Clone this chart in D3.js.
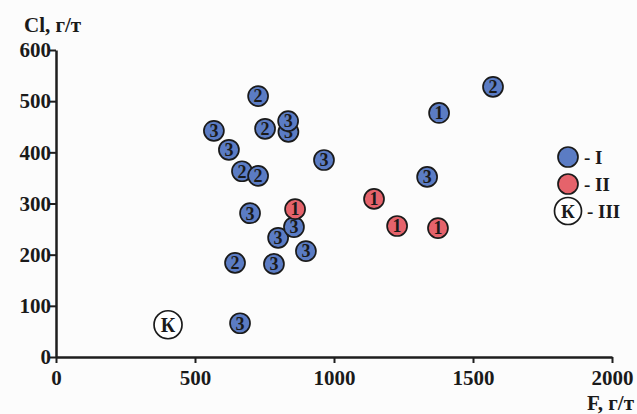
<!DOCTYPE html>
<html>
<head>
<meta charset="utf-8">
<script src="https://cdn.jsdelivr.net/npm/d3@7"></script>
<style>
	body { margin: 0; background: #fcfcfc; }
	text { font-family: "Liberation Serif", "Times New Roman", serif; font-weight: bold; fill: #1a1a1a; }
</style>
</head>
<body>
<div id="chart"></div>
<script>
// F, г/т
var fValues = [727, 1572, 1378, 568, 752, 836, 835, 622, 964, 669, 727, 1335,
	1144, 698, 799, 856, 860, 899, 644, 784, 662, 403, 1227, 1374];
// Cl, г/т
var clValues = [510, 528, 477, 442, 446, 440, 461, 405, 385, 363, 354, 352,
	309, 281, 233, 254, 289, 207, 184, 182, 66, 63, 256, 252];
// group: I, II, III
var groups = ['I', 'I', 'I', 'I', 'I', 'I', 'I', 'I', 'I', 'I', 'I', 'I',
	'II', 'I', 'I', 'I', 'II', 'I', 'I', 'I', 'I', 'III', 'II', 'II'];
var labels = ['2', '2', '1', '3', '2', '3', '3', '3', '3', '2', '2', '3',
	'1', '3', '3', '3', '1', '3', '2', '3', '3', 'К', '1', '1'];

var xTicks = [0, 500, 1000, 1500, 2000];
var yTicks = [0, 100, 200, 300, 400, 500, 600];

var legendGroups = ['I', 'II', 'III'];
var legendLabels = ['', '', 'К'];

var colors = {
	I: '#5b7cc4',
	II: '#e5636b',
	III: '#ffffff',
	axis: '#1e1e1e'
};

var width = 637;
var height = 414;

var svg = d3.select('#chart')
	.append('svg')
	.attr('width', width)
	.attr('height', height);

var x = d3.scaleLinear()
	.domain([0, 2000])
	.range([56, 612]);

var y = d3.scaleLinear()
	.domain([0, 600])
	.range([357, 50]);

// axes
var xAxis = svg.append('g')
	.attr('transform', 'translate(0,' + y(0) + ')')
	.call(d3.axisBottom(x).tickValues(xTicks).tickSize(6).tickSizeOuter(0).tickFormat(d3.format('d')));

var yAxis = svg.append('g')
	.attr('transform', 'translate(' + x(0) + ',0)')
	.call(d3.axisLeft(y).tickValues(yTicks).tickSize(6).tickSizeOuter(0).tickFormat(d3.format('d')));

[xAxis, yAxis].forEach(function(a) {
	a.select('.domain').attr('stroke', colors.axis).attr('stroke-width', 2.5);
	a.selectAll('.tick line').attr('stroke', colors.axis).attr('stroke-width', 2);
	a.selectAll('.tick text')
		.attr('font-family', '"Liberation Serif", serif')
		.attr('font-size', 21)
		.attr('font-weight', 'bold')
		.attr('fill', '#1a1a1a');
});

xAxis.selectAll('.tick text').attr('y', 13);
yAxis.selectAll('.tick text').attr('x', -5);

svg.append('text')
	.attr('x', 24)
	.attr('y', 32)
	.attr('font-size', 21)
	.text('Cl, г/т');

svg.append('text')
	.attr('x', 634)
	.attr('y', 410)
	.attr('text-anchor', 'end')
	.attr('font-size', 21)
	.text('F, г/т');

// points
var pts = svg.append('g')
	.selectAll('g')
	.data(fValues.map(function(f, i) { return { f: f, cl: clValues[i], g: groups[i], l: labels[i] }; }))
	.enter()
	.append('g')
	.attr('transform', function(d) { return 'translate(' + x(d.f) + ',' + y(d.cl) + ')'; });

pts.append('circle')
	.attr('r', function(d) { return d.g == 'III' ? 14 : 10; })
	.attr('fill', function(d) { return colors[d.g]; })
	.attr('stroke', '#1a1a1a')
	.attr('stroke-width', 1.7);

pts.append('text')
	.attr('text-anchor', 'middle')
	.attr('dy', '0.35em')
	.attr('font-size', function(d) { return d.g == 'III' ? 20 : 18; })
	.text(function(d) { return d.l; });

// legend
var legend = svg.append('g')
	.selectAll('g')
	.data(legendGroups)
	.enter()
	.append('g')
	.attr('transform', function(d, i) { return 'translate(568,' + (157 + i * 27) + ')'; });

legend.append('circle')
	.attr('r', function(d, i) { return i == 2 ? 13.5 : 10; })
	.attr('fill', function(d) { return colors[d]; })
	.attr('stroke', '#1a1a1a')
	.attr('stroke-width', 1.7);

legend.append('text')
	.attr('text-anchor', 'middle')
	.attr('dy', '0.35em')
	.attr('font-size', 19)
	.text(function(d, i) { return legendLabels[i]; });

legend.append('text')
	.attr('x', function(d, i) { return i == 2 ? 19 : 16; })
	.attr('dy', '0.35em')
	.attr('font-size', 19)
	.text(function(d) { return '- ' + d; });
</script>
</body>
</html>
